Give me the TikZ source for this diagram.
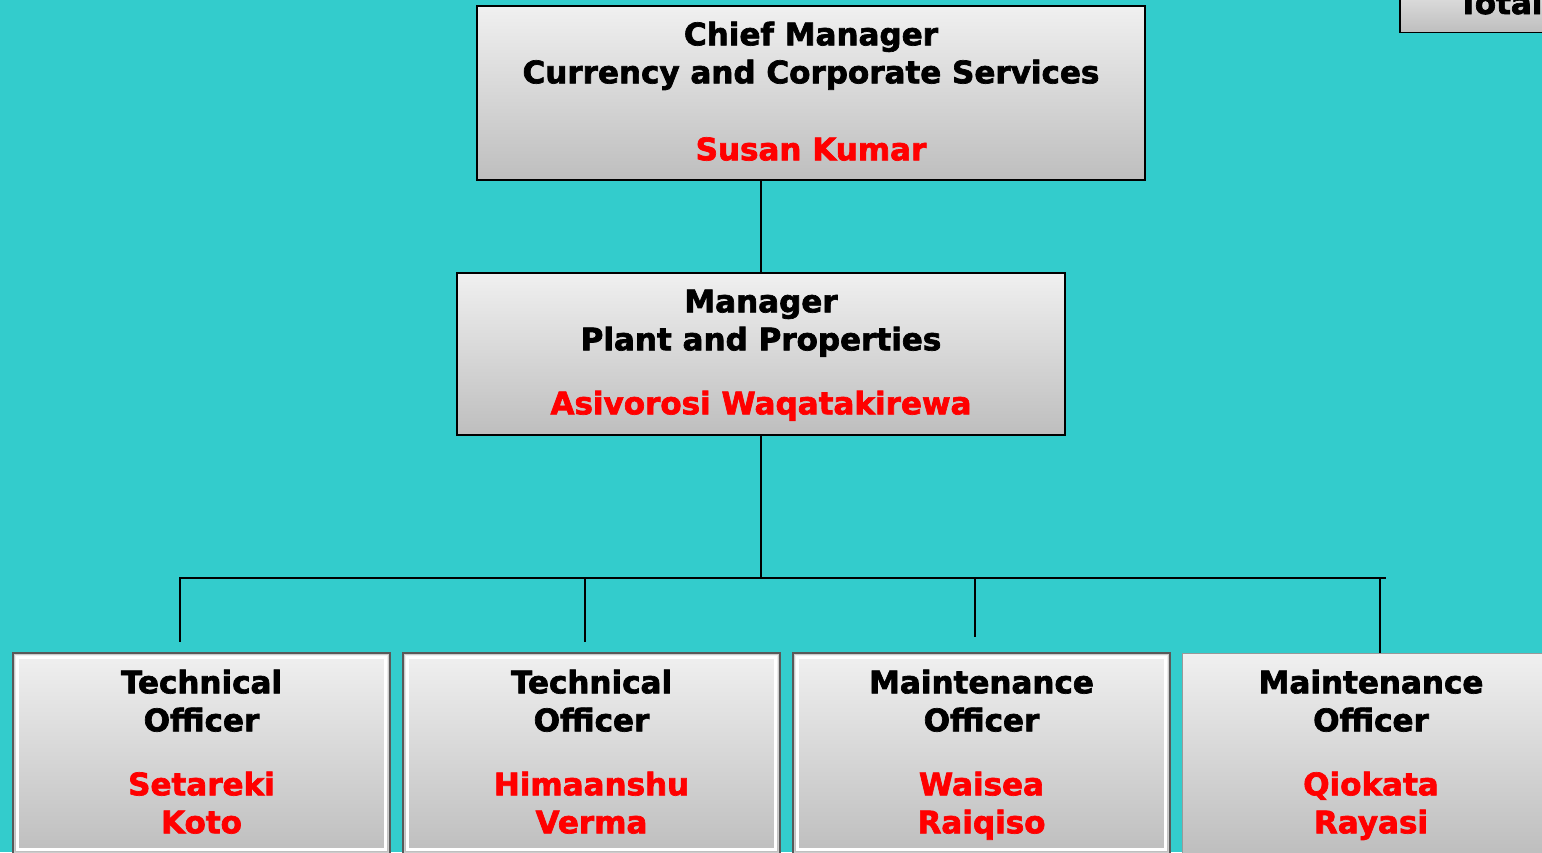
\documentclass[tikz,border=0pt]{standalone}
\usepackage{fontspec}
\setmainfont{DejaVu Sans}[BoldFeatures={FakeBold=2.2}]
\definecolor{bgcyan}{HTML}{33CCCC}
\definecolor{boxtop}{HTML}{F0F0F0}
\definecolor{boxbot}{HTML}{BEBEBE}
\definecolor{namered}{HTML}{FF0000}
\begin{document}
\begin{tikzpicture}[x=1pt,y=-1pt,
    box/.style={draw=black, line width=1.5pt, top color=boxtop, bottom color=boxbot,
        align=center, inner sep=0pt, text depth=4pt, font=\fontsize{31}{38}\selectfont\bfseries},
    officer/.style={box, draw=black!65, minimum width=377pt, minimum height=201pt},
    link/.style={draw=black, line width=2pt}]
    \useasboundingbox (0,0) rectangle (1542,852);
    \clip (0,0) rectangle (1542,852);
    \fill[bgcyan] (0,0) rectangle (1542,852);

    \node[box, minimum width=668pt, minimum height=174pt] (chief) at (811,93)
        {Chief Manager\\Currency and Corporate Services\\[39pt]\textcolor{namered}{Susan Kumar}};
    \node[box, minimum width=608pt, minimum height=162pt] (mgr) at (761,354)
        {Manager\\Plant and Properties\\[26pt]\textcolor{namered}{Asivorosi Waqatakirewa}};
    \node[box, anchor=south west, minimum height=60pt, text width=150pt, align=left,
        inner xsep=58pt, text depth=0pt] (total) at (1399,33) {Total};

    \foreach \n/\x/\a/\b/\c/\d in {t1/201.5/Technical/Officer/Setareki/Koto,
        t2/591.5/Technical/Officer/Himaanshu/Verma,
        t3/981.5/Maintenance/Officer/Waisea/Raiqiso}
    {
        \node[officer] (\n) at (\x,753.5)
            {\a\\\b\\[26pt]\textcolor{namered}{\c}\\\textcolor{namered}{\d}};
        \draw[white, line width=3pt] ([shift={(5,5)}]\n.north west) rectangle ([shift={(-5,-5)}]\n.south east);
        \draw[black!20, line width=1pt] ([shift={(2.5,2.5)}]\n.north west) rectangle ([shift={(-2.5,-2.5)}]\n.south east);
    }
    \node[officer, draw=black!40, line width=1pt] (t4) at (1371,753.5)
        {Maintenance\\Officer\\[26pt]\textcolor{namered}{Qiokata}\\\textcolor{namered}{Rayasi}};

    \path (mgr.south) ++(0,142) coordinate (bus);
    \draw[link] (mgr.north) -- (mgr.north |- chief.south);
    \draw[link] (mgr.south) -- (bus);
    \foreach \n/\dx/\s in {t1/-21.5/10,t2/-6.5/10,t3/-6.5/15,t4/9/0}
    {
        \coordinate (\n top) at ([xshift=\dx pt]\n.north);
        \draw[link, shorten >=\s pt] (\n top |- bus) -- (\n top);
    }
    \draw[link] ([xshift=-1pt]t1top |- bus) -- ([xshift=6pt]t4top |- bus);
\end{tikzpicture}
\end{document}
